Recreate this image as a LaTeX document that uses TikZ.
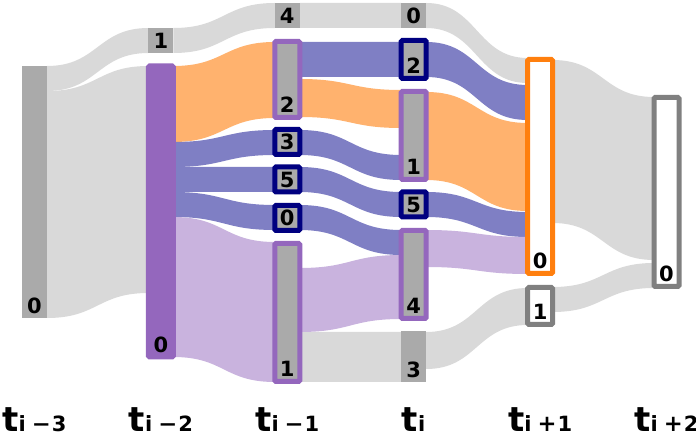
\documentclass[tikz,border=0pt]{standalone}
\usepackage{fontspec}
\setmainfont{DejaVu Sans}
\usetikzlibrary{calc}
\definecolor{ngray}{HTML}{AAAAAA}
\definecolor{fgray}{HTML}{D9D9D9}
\definecolor{npurple}{HTML}{9467BD}
\definecolor{fpurple}{HTML}{C9B3DE}
\definecolor{forange}{HTML}{FFB26E}
\definecolor{fblue}{HTML}{7F7FC4}
\definecolor{nnavy}{HTML}{000080}
\definecolor{norange}{HTML}{FF7F0E}
\definecolor{bgray}{HTML}{808080}
\pgfdeclarelayer{bg}
\pgfsetlayers{bg,main}
\newcommand\ribbon[6]{%
 \fill[#1] let \p1=(#2.east), \p2=(#4.west), \p3=($(\p1)!0.5!(\p2)$) in
 (\x1,-#3pt) .. controls (\x3,-#3pt) and (\x3,-#5pt) .. (\x2,-#5pt)
 -- (\x2,{-#5pt-#6pt}) .. controls (\x3,{-#5pt-#6pt}) and (\x3,{-#3pt-#6pt}) .. (\x1,{-#3pt-#6pt}) -- cycle;}
\newcommand\tlab[1]{{\fontsize{34}{34}\selectfont t}{\fontsize{21}{21}\selectfont\raisebox{-1pt}{#1}}}
\newcommand\tminus{\kern6pt\scalebox{1.08}[1]{−}\kern1pt}
\newcommand\tplus{\kern6pt\scalebox{1.08}{+}\kern1pt}
\tikzset{
 bar/.style={rectangle, inner sep=0pt, outer sep=0pt, minimum width=25pt, line width=5pt, rounded corners=1.2pt},
 plain/.style={bar, fill=ngray, rounded corners=0pt},
 navybox/.style={bar, fill=ngray, draw=nnavy},
 purplebox/.style={bar, fill=ngray, draw=npurple},
 lab/.style={anchor=base, inner sep=0pt, font=\fontsize{21}{21}\selectfont\bfseries},
 tl/.style={anchor=base, inner sep=0pt, font=\bfseries}
}
\begin{document}
\begin{tikzpicture}[x=1pt,y=-1pt]
\useasboundingbox (0,0) rectangle (696,435);
% column t_{i-3}
\node[plain, minimum height=252pt] (A0) at (34.5,192) {};
% column t_{i-2}
\node[plain, minimum height=25pt] (B1) at (160.9,40.5) {};
\node[bar, fill=npurple, draw=npurple, minimum height=291pt] (B0) at (160.9,211.5) {};
% column t_{i-1}
\node[plain, minimum height=25pt] (C4) at (287.3,15.5) {};
\node[purplebox, minimum height=76pt] (C2) at (287.3,79.5) {};
\node[navybox, minimum height=25pt] (C3) at (287.3,142) {};
\node[navybox, minimum height=25pt] (C5) at (287.3,179.5) {};
\node[navybox, minimum height=25pt] (C0) at (287.3,218) {};
\node[purplebox, minimum height=138pt] (C1) at (287.3,312.5) {};
% column t_i
\node[plain, minimum height=25pt] (D0) at (413.7,15.5) {};
\node[navybox, minimum height=38pt] (D2) at (413.7,59.5) {};
\node[purplebox, minimum height=88pt] (D1) at (413.7,135.5) {};
\node[navybox, minimum height=25pt] (D5) at (413.7,204.5) {};
\node[purplebox, minimum height=88pt] (D4) at (413.7,274.5) {};
\node[plain, minimum height=51pt] (D3) at (413.7,356.5) {};
% column t_{i+1}
\node[bar, fill=white, draw=norange, minimum height=214pt] (E0) at (540.1,166.5) {};
\node[bar, fill=white, draw=bgray, minimum height=37pt] (E1) at (540.1,306) {};
% column t_{i+2}
\node[bar, fill=white, draw=bgray, minimum height=189pt] (F0) at (666.5,192) {};
% ribbons
\begin{pgfonlayer}{bg}
\ribbon{fgray}{A0}{66}{B1}{28}{25}
\ribbon{fgray}{A0}{91}{B0}{66}{227}
\ribbon{fgray}{B1}{28}{C4}{3}{25}
\ribbon{fgray}{C4}{3}{D0}{3}{25}
\ribbon{fgray}{D0}{3}{E0}{58}{25}
\ribbon{fgray}{C1}{332}{D3}{332}{50}
\ribbon{fgray}{D3}{332}{E1}{288}{37}
\ribbon{fgray}{E0}{60}{F0}{97}{163}
\ribbon{fgray}{E1}{287}{F0}{263}{25}
\ribbon{forange}{B0}{66}{C2}{42}{76}
\ribbon{forange}{C2}{79}{D1}{90}{38}
\ribbon{forange}{D1}{92}{E0}{123}{88}
\ribbon{fblue}{B0}{142}{C3}{130}{25}
\ribbon{fblue}{B0}{167}{C5}{167}{25}
\ribbon{fblue}{B0}{192}{C0}{205}{25}
\ribbon{fblue}{C2}{42}{D2}{42}{35}
\ribbon{fblue}{C3}{130}{D1}{155}{25}
\ribbon{fblue}{C5}{167}{D5}{192}{25}
\ribbon{fblue}{C0}{205}{D4}{230}{25}
\ribbon{fblue}{D2}{42}{E0}{85}{35}
\ribbon{fblue}{D5}{192}{E0}{212}{25}
\ribbon{fpurple}{B0}{217}{C1}{242}{140}
\ribbon{fpurple}{C1}{268}{D4}{255}{64}
\ribbon{fpurple}{D4}{230}{E0}{237}{37}
\end{pgfonlayer}
% node labels
\node[lab] (lA0) at ([yshift=4.6pt]A0.south) {0};
\node[lab] (lB1) at ([yshift=4.8pt]B1.south) {1};
\node[lab] (lB0) at ([yshift=4.8pt]B0.south) {0};
\node[lab] (lC4) at ([yshift=4.8pt]C4.south) {4};
\node[lab] (lC2) at ([yshift=4.8pt]C2.south) {2};
\node[lab] (lC3) at ([yshift=4.8pt]C3.south) {3};
\node[lab] (lC5) at ([yshift=4.8pt]C5.south) {5};
\node[lab] (lC0) at ([yshift=4.8pt]C0.south) {0};
\node[lab] (lC1) at ([yshift=4.8pt]C1.south) {1};
\node[lab] (lD0) at ([yshift=4.8pt]D0.south) {0};
\node[lab] (lD2) at ([yshift=4.8pt]D2.south) {2};
\node[lab] (lD1) at ([yshift=4.8pt]D1.south) {1};
\node[lab] (lD5) at ([yshift=4.8pt]D5.south) {5};
\node[lab] (lD4) at ([yshift=4.8pt]D4.south) {4};
\node[lab] (lD3) at ([yshift=4.8pt]D3.south) {3};
\node[lab] (lE0) at ([yshift=4.8pt]E0.south) {0};
\node[lab] (lE1) at ([yshift=4.8pt]E1.south) {1};
\node[lab] (lF0) at ([yshift=4.8pt]F0.south) {0};
% time axis labels
\node[tl] (T3) at (34.5,431) {\tlab{i\tminus3}};
\node[tl] (T2) at (160.9,431) {\tlab{i\tminus2}};
\node[tl] (T1) at (287.3,431) {\tlab{i\tminus1}};
\node[tl] (T0) at (413.7,431) {\tlab{i}};
\node[tl] (Tp1) at (540.1,431) {\tlab{i\tplus1}};
\node[tl] (Tp2) at (666.5,431) {\tlab{i\tplus2}};
\end{tikzpicture}
\end{document}
